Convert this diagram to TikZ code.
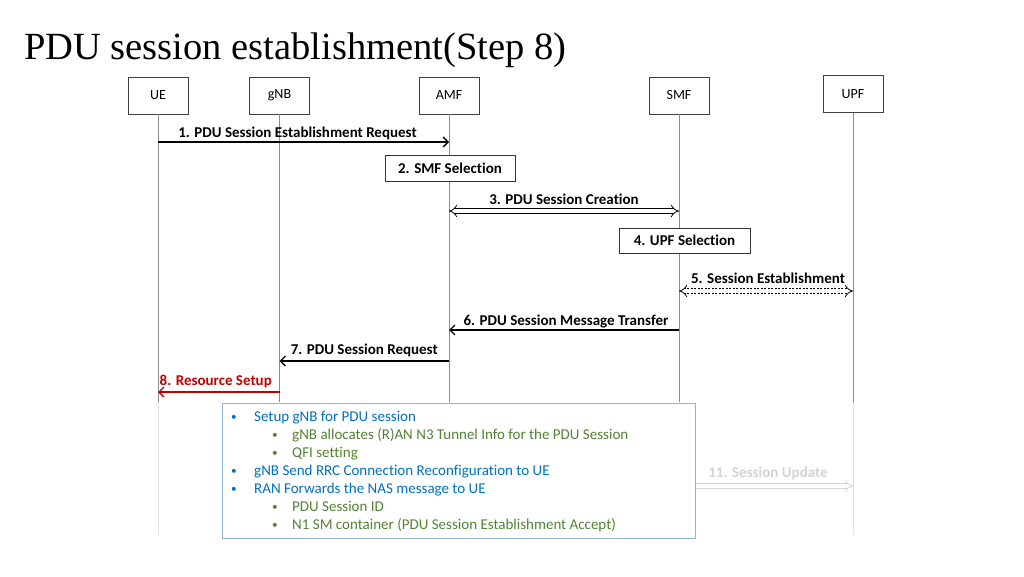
\documentclass[tikz,border=0pt]{standalone}
\usepackage{fontspec}
\setmainfont{Carlito}[Ligatures=NoCommon]
\newfontfamily\titlefont{Liberation Serif}
\usetikzlibrary{arrows.meta,calc}
\definecolor{lifegray}{HTML}{8C8C8C}
\definecolor{fadegray}{HTML}{E3E3E3}
\definecolor{stepred}{HTML}{C00000}
\definecolor{noteblue}{HTML}{0070C0}
\definecolor{notegreen}{HTML}{548235}
\definecolor{boxblue}{HTML}{95B3D7}
\definecolor{ghost}{HTML}{D3D3D3}
\newcommand\smallbullet{\raisebox{0.15ex}{\scalebox{0.75}{•}}}
\newcommand\noteA[1]{\textcolor{noteblue}{\makebox[23pt][l]{\smallbullet}#1}}
\newcommand\noteB[1]{\hspace*{41pt}\textcolor{notegreen}{\makebox[20pt][l]{\smallbullet}#1}}
\begin{document}
\begin{tikzpicture}[x=1pt,y=-1pt,
 entity/.style={draw=black!75, line width=0.9pt, minimum width=60pt, minimum height=37pt, inner sep=0pt, font=\fontsize{14}{16}\selectfont, fill=white},
 lifeline/.style={draw=lifegray, line width=1pt},
 fadeline/.style={draw=fadegray, line width=1pt},
 msg/.style={line width=1.3pt, -{Straight Barb[length=5pt,width=10pt]}},
 dmsg/.style={double, double distance=3.5pt, line width=0.8pt, {Implies}-{Implies}},
 lbl/.style={font=\fontsize{15}{17}\selectfont\bfseries, anchor=base, inner sep=0pt},
 stepbox/.style={draw=black!80, line width=0.9pt, fill=white, minimum width=130pt, minimum height=26pt, inner sep=0pt, font=\fontsize{15}{17}\selectfont\bfseries},
]
\useasboundingbox (0,0) rectangle (1024,576);

\node[anchor=base west, inner sep=0pt, font=\titlefont\fontsize{38.5}{40}\selectfont] (title) at (24,59) {PDU session establishment(Step 8)};

% entities
\node[entity] (UE)  at (158,95.5) {UE};
\node[entity] (gNB) at (279.5,95.5) {gNB};
\node[entity] (AMF) at (449,95.5) {AMF};
\node[entity] (SMF) at (679,95.5) {SMF};
\node[entity] (UPF) at (853,94) {UPF};

% lifelines
\foreach \e in {UE,gNB,AMF,SMF,UPF}{
  \draw[lifeline] (\e.south) -- (\e |- 0,402) coordinate (\e m);
  \draw[fadeline] (\e m) -- (\e |- 0,535) coordinate (\e e);
}

% messages
\draw[msg] (UE |- 0,142) -- node[lbl, xshift=-6pt, yshift=4.5pt]{1. PDU Session Establishment Request} (AMF |- 0,142);
\node[stepbox] (s2) at (450,168) {2. SMF Selection};
\draw[dmsg] (AMF |- 0,211) -- node[lbl, yshift=7pt]{3. PDU Session Creation} (SMF |- 0,211);
\node[stepbox, minimum width=131pt, minimum height=25pt] (s4) at (684.5,240.5) {4. UPF Selection};
\draw[dmsg, dash pattern=on 2pt off 1.5pt] (SMF |- 0,291) -- node[lbl, xshift=2pt, yshift=8pt]{5. Session Establishment} (UPF |- 0,291);
\draw[msg] (SMF |- 0,330) -- node[lbl, xshift=2pt, yshift=5pt]{6. PDU Session Message Transfer} (AMF |- 0,330);
\draw[msg] (AMF |- 0,361) -- node[lbl, yshift=6.5pt]{7. PDU Session Request} (gNB |- 0,361);
\draw[msg, stepred] (gNB |- 0,392) -- node[lbl, text=stepred, xshift=-3pt, yshift=6.5pt]{8. Resource Setup} (UE |- 0,392);

% faded step 11 (behind the callout)
\draw[double, double distance=3.5pt, line width=0.8pt, draw=ghost, -{Implies}] (SMF |- 0,486) -- node[lbl, text=ghost, xshift=2pt, yshift=9pt]{11. Session Update} (UPF |- 0,486);

% callout
\node[draw=boxblue, line width=1pt, fill=white, minimum width=473pt, minimum height=135pt, anchor=north west, inner sep=0pt] (callout) at (222,403) {};
\node[anchor=west, inner sep=0pt, font=\fontsize{15}{18}\selectfont] (notes) at (231,471.5) {%
\begin{tabular}{@{}l@{}}
\noteA{Setup gNB for PDU session}\\
\noteB{gNB allocates (R)AN N3 Tunnel Info for the PDU Session}\\
\noteB{QFI setting}\\
\noteA{gNB Send RRC Connection Reconfiguration to UE}\\
\noteA{RAN Forwards the NAS message to UE}\\
\noteB{PDU Session ID}\\
\noteB{N1 SM container (PDU Session Establishment Accept)}
\end{tabular}};
\end{tikzpicture}
\end{document}
